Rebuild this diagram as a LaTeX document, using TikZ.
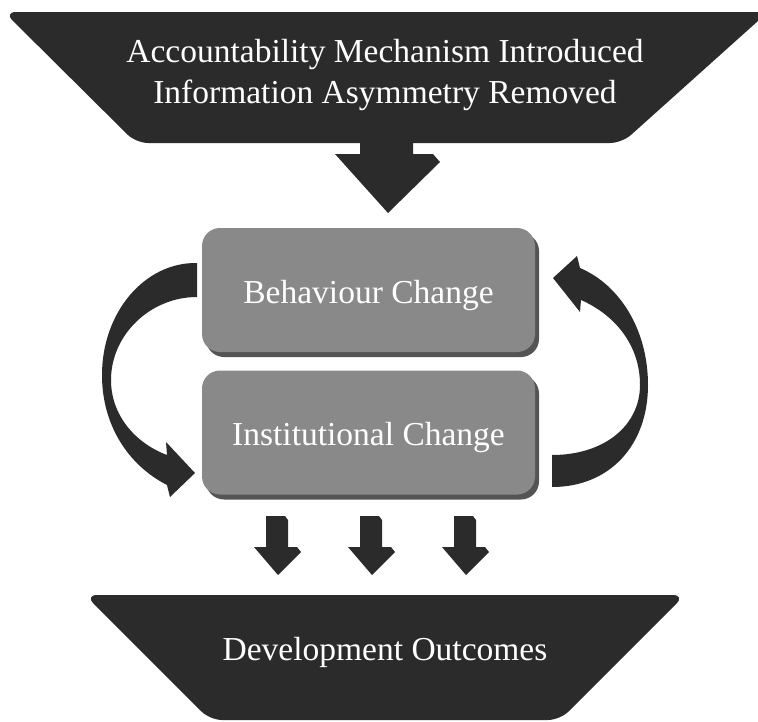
\documentclass[tikz,border=0pt]{standalone}
\usepackage{fontspec}
\setmainfont{Liberation Serif}
\usepackage{tikz}
\usetikzlibrary{shadows}
\definecolor{bannerdark}{RGB}{43,43,43}
\definecolor{boxgrey}{RGB}{137,137,137}
\definecolor{boxshade}{RGB}{84,84,84}
\newcommand{\bigfont}{\fontsize{33.5}{40}\selectfont}
\tikzset{
  banner/.style={fill=bannerdark, rounded corners=12pt},
  blockarrow/.style={fill=bannerdark},
  changebox/.style={fill=boxgrey, rounded corners=18pt,
    minimum width=333pt, minimum height=124pt,
    text=white, font=\bigfont, text height=30pt, text depth=4pt,
    general shadow={fill=boxshade, shadow xshift=4pt, shadow yshift=-5pt}},
  bannertext/.style={text=white, font=\bigfont, anchor=base, inner sep=0pt},
}

\begin{document}
\begin{tikzpicture}[x=1pt, y=-1pt]
  \useasboundingbox (0,0) rectangle (758,721);

  % Top banner
  \fill[banner] (4,12) -- (768,12) -- (622,143) -- (136,143) -- cycle;
  \node[bannertext] (mech) at (385,62) {Accountability Mechanism Introduced};
  \node[bannertext] (asym) at (385,103) {Information Asymmetry Removed};

  % Main arrow down
  \fill[blockarrow] (360,135) -- (360,154) -- (335,154) -- (388,213)
    -- (440,162) -- (433,154) -- (413,154) -- (413,135) -- cycle;

  % Change boxes
  \node[changebox] (behav) at (368.5,290) {Behaviour Change};
  \node[changebox] (inst) at (368.5,432.5) {Institutional Change};

  % Loop arrows
  \fill[blockarrow] (197,263) .. controls (145,262) and (102,312) .. (102,375)
    .. controls (102,425) and (128,465) .. (167,485)
    -- (170,497) -- (195,473) -- (166,442) -- (167,455)
    .. controls (135,443) and (111,415) .. (111,380)
    .. controls (111,335) and (150,297) .. (197,297) -- cycle;
  \fill[blockarrow] (552,487) .. controls (610,487) and (648,445) .. (648,385)
    .. controls (648,330) and (620,285) .. (580,268)
    -- (577,256) -- (553,278) -- (580,312) -- (581,300)
    .. controls (615,315) and (640,345) .. (640,385)
    .. controls (640,425) and (605,455) .. (552,455) -- cycle;

  % Small arrows
  \foreach \c in {277,371,465}
    \fill[blockarrow] (\c-11,516) -- (\c+8,516) -- (\c+11,520) -- (\c+11,547)
      -- (\c+20,547) -- (\c+24,552) -- (\c+1,575) -- (\c-23,547)
      -- (\c-11,547) -- cycle;

  % Bottom banner
  \fill[banner] (85,595) -- (685,595) -- (560,720) -- (210,720) -- cycle;
  \node[bannertext] (outcome) at (385,660) {Development Outcomes};
\end{tikzpicture}
\end{document}
